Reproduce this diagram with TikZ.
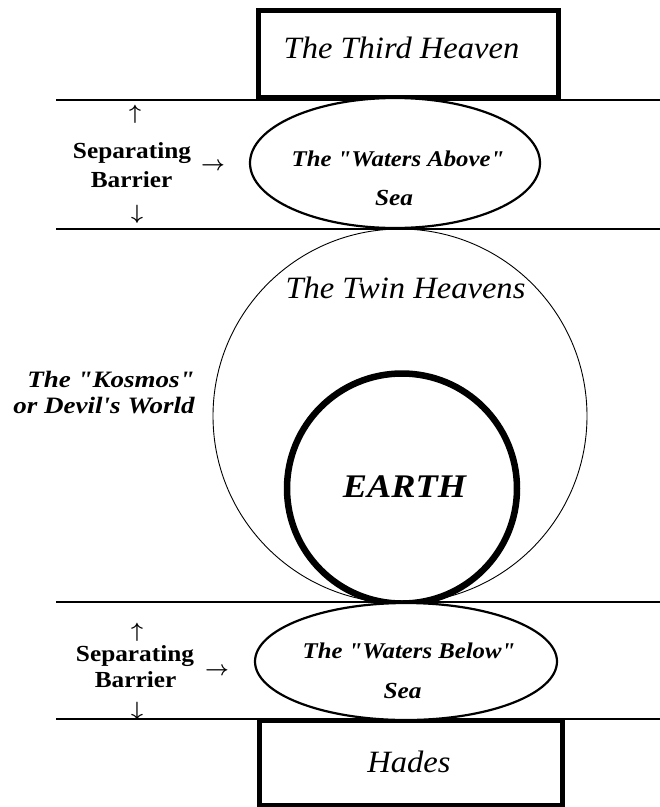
\documentclass[tikz,border=0pt]{standalone}
\usepackage{fontspec}
\setmainfont{Liberation Serif}
\newfontfamily\widebi[FakeStretch=1.1]{Liberation Serif}
\newfontfamily\widek[FakeStretch=1.15]{Liberation Serif}
\newfontfamily\wideit[FakeStretch=1.05]{Liberation Serif}
\usetikzlibrary{shapes.geometric}
\begin{document}
\begin{tikzpicture}[x=1pt,y=-1pt,
  boxshape/.style={draw, line width=5pt, inner sep=0pt},
  sealine/.style={draw, ellipse, line width=2.2pt, inner sep=0pt},
  divider/.style={line width=1.3pt},
  lbl/.style={inner sep=0pt, anchor=base},
  bi/.style={lbl, font=\widebi\bfseries\itshape},
  it/.style={lbl, font=\wideit\itshape\fontsize{31}{36}\selectfont},
  sep/.style={lbl, font=\widebi\bfseries\fontsize{23}{27}\selectfont},
  arr/.style={inner sep=0pt, anchor=center, font=\fontsize{22}{25}\selectfont\boldmath}]
\useasboundingbox (0,0) rectangle (660,807);
\fill[white] (0,0) rectangle (660,807);

% horizontal dividers
\coordinate (l1a) at (56,100); \coordinate (l1b) at (660,100);
\coordinate (l2a) at (56,229); \coordinate (l2b) at (660,229);
\coordinate (l3a) at (56,602); \coordinate (l3b) at (660,602);
\coordinate (l4a) at (56,719); \coordinate (l4b) at (660,719);
\draw[divider] (l1a) -- (l1b);
\draw[divider] (l2a) -- (l2b);
\draw[divider] (l3a) -- (l3b);
\draw[divider] (l4a) -- (l4b);

% heavens and earth
\node[draw, circle, line width=0.9pt, minimum size=374pt, inner sep=0pt] (twin) at (400,416) {};
\node[draw, circle, line width=6.5pt, minimum size=230pt, inner sep=0pt] (earth) at (402,488.5) {};

% boxes
\node[boxshape, fill=white, minimum width=300pt, minimum height=87pt] (third) at (408,53.5) {};
\node[boxshape, fill=white, minimum width=303pt, minimum height=85pt] (hades) at (410.5,762.5) {};

% seas
\node[sealine, fill=white, minimum width=290pt, minimum height=130pt] (above) at (395,163) {};
\node[sealine, fill=white, minimum width=302pt, minimum height=117pt] (below) at (406,661.5) {};

% texts
\node[it] (t3) at (401.5,58) {The Third Heaven};
\node[bi, font=\widebi\bfseries\itshape\fontsize{22.5}{26}\selectfont] (wa1) at (398,166) {The "Waters Above"};
\node[bi, font=\widebi\bfseries\itshape\fontsize{23}{26}\selectfont] (wa2) at (394,205) {Sea};
\node[it] (tw) at (405.5,298) {The Twin Heavens};
\node[bi, font=\widek\bfseries\itshape\fontsize{23.5}{27}\selectfont] (k1) at (111,387) {The "Kosmos"};
\node[bi, font=\widek\bfseries\itshape\fontsize{23.5}{27}\selectfont] (k2) at (104,413) {or Devil's World};
\node[bi, font=\widebi\bfseries\itshape\fontsize{33}{38}\selectfont] (ea) at (404.5,497) {EARTH};
\node[bi, font=\widebi\bfseries\itshape\fontsize{22.5}{26}\selectfont] (wb1) at (409,658) {The "Waters Below"};
\node[bi, font=\widebi\bfseries\itshape\fontsize{23}{26}\selectfont] (wb2) at (402.5,698) {Sea};
\node[it] (hd) at (409,772) {Hades};

% separating barriers
\node[sep] (s1) at (132,158) {Separating};
\node[sep] (b1) at (131.5,187) {Barrier};
\node[arr] (u1) at (135,114) {$\uparrow$};
\node[arr] (d1) at (137,214) {$\downarrow$};
\node[arr] (r1) at (213,166) {$\rightarrow$};
\node[sep] (s2) at (135,661) {Separating};
\node[sep] (b2) at (135.5,687) {Barrier};
\node[arr] (u2) at (137,632) {$\uparrow$};
\node[arr] (d2) at (137,711) {$\downarrow$};
\node[arr] (r2) at (217,671) {$\rightarrow$};
\end{tikzpicture}
\end{document}
